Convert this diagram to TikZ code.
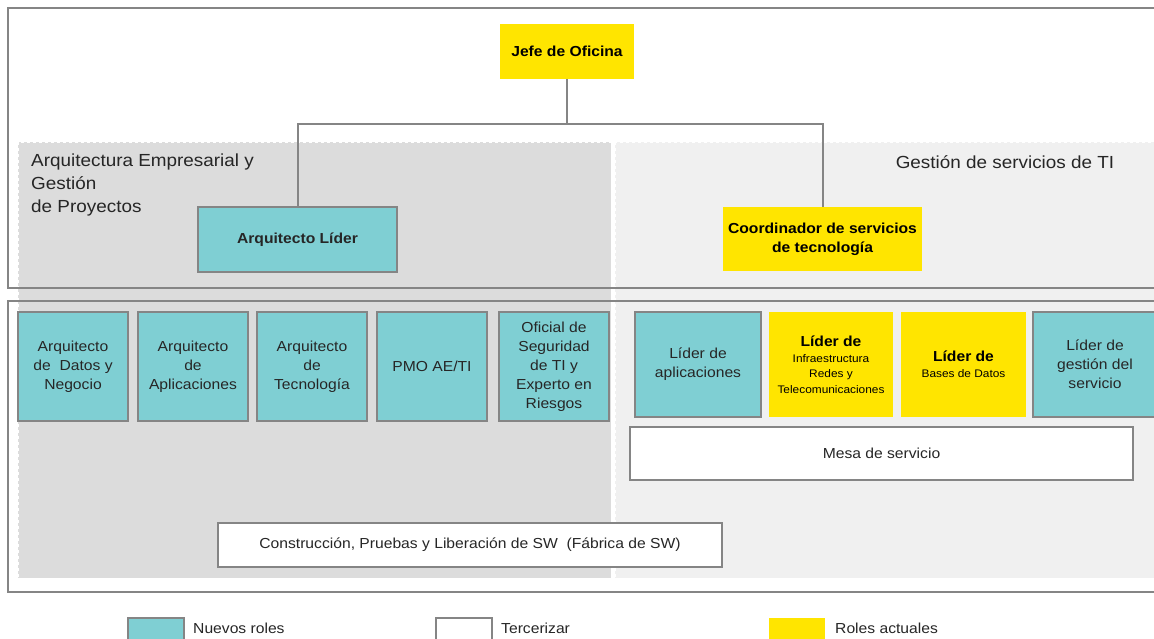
\documentclass[tikz,border=0pt]{standalone}
\usepackage{fontspec}
\setmainfont{Liberation Sans}[FakeStretch=1.08]
\usepackage{tikz}
\usepackage{xcolor}
\usetikzlibrary{positioning}
\definecolor{rolteal}{HTML}{7FCFD3}
\definecolor{rolyellow}{HTML}{FFE500}
\definecolor{areadark}{HTML}{DCDCDC}
\definecolor{arealight}{HTML}{F0F0F0}
\definecolor{linegray}{HTML}{858585}
\definecolor{textgray}{HTML}{262626}
\tikzset{
    role-box/.style = {rectangle, inner sep=2pt, align=center, text=textgray, font=\fontsize{14.5}{19}\selectfont},
    bold-text/.style = {font=\fontsize{14.5}{19}\selectfont\bfseries},
    new-role/.style = {role-box, draw=linegray, fill=rolteal, line width=1.2pt},
    current-role/.style = {role-box, fill=rolyellow, text=black},
    outsourced/.style = {role-box, draw=linegray, fill=white, line width=1.2pt},
    area/.style = {draw=white, dashed, line width=0.8pt},
    area-title/.style = {text=textgray, font=\fontsize{17.5}{23}\selectfont, align=left, inner sep=0pt},
    frame/.style = {draw=linegray, line width=1.2pt},
    link/.style = {draw=linegray, line width=2pt},
    key-label/.style = {text=textgray, font=\fontsize{14.5}{19}\selectfont, inner sep=0pt, anchor=west},
}
\begin{document}
\begin{tikzpicture}[x=1pt, y=-1pt]
\useasboundingbox (0,0) rectangle (1154,638);
\clip (0,0) rectangle (1154,638);
\fill[white] (0,0) rectangle (1154,638);

\filldraw[area, fill=areadark] (18,142) rectangle (611,578);
\filldraw[area, fill=arealight] (615,142) rectangle (1170,578);
\draw[frame] (8,8) rectangle (1162,288);
\draw[frame] (8,301) rectangle (1162,592);

\node[area-title, anchor=west] (aetitle) at (31,185) {Arquitectura Empresarial y\\Gestión\\de Proyectos};
\node[area-title] (gstitle) at (1005,162) {Gestión de servicios de TI};

\node[current-role, bold-text, minimum width=134pt, minimum height=55pt] (jefe) at (567,51.5) {Jefe de Oficina};
\node[new-role, bold-text, minimum width=199pt, minimum height=65pt] (lider) at (297.5,239.5) {Arquitecto Líder};
\node[current-role, bold-text, minimum width=199pt, minimum height=64pt] (coord) at (822.5,239) {Coordinador de servicios\\de tecnología};

\coordinate (bus) at (567,124);
\draw[link] (jefe.south) -- (bus) -| (lider.north);
\draw[link] (bus) -| (coord.north);

\node[new-role, minimum width=110pt, minimum height=109pt] (datos) at (73,366.5) {Arquitecto\\de\ \ Datos y\\Negocio};
\node[new-role, minimum width=110pt, minimum height=109pt] (aplic) at (193,366.5) {Arquitecto\\de\\Aplicaciones};
\node[new-role, minimum width=110pt, minimum height=109pt] (tecno) at (312,366.5) {Arquitecto\\de\\Tecnología};
\node[new-role, minimum width=110pt, minimum height=109pt] (pmo) at (432,366.5) {PMO AE/TI};
\node[new-role, minimum width=110pt, minimum height=109pt] (segur) at (554,366.5) {Oficial de\\Seguridad\\de TI y\\Experto en\\Riesgos};

\node[outsourced, minimum width=504pt, minimum height=44pt] (fabrica) at (470,545) {Construcción, Pruebas y Liberación de SW\ \ (Fábrica de SW)};

\node[new-role, minimum width=126pt, minimum height=105pt] (lidapl) at (698,364.5) {Líder de\\aplicaciones};
\node[current-role, minimum width=124pt, minimum height=105pt, font=\fontsize{11}{15.5}\selectfont] (lidinf) at (831,364.5) {{\fontsize{14.5}{15.5}\selectfont\bfseries Líder de}\\Infraestructura\\Redes y\\Telecomunicaciones};
\node[current-role, minimum width=125pt, minimum height=105pt, font=\fontsize{11}{16}\selectfont] (lidbd) at (963.5,364.5) {{\fontsize{14.5}{16}\selectfont\bfseries Líder de}\\Bases de Datos};
\node[new-role, minimum width=124pt, minimum height=105pt] (lidges) at (1095,364.5) {Líder de\\gestión del\\servicio};
\node[outsourced, minimum width=503pt, minimum height=53pt] (mesa) at (881.5,453.5) {Mesa de servicio};

\node[new-role, minimum width=56pt, minimum height=32pt] (keynew) at (156,634) {};
\node[key-label] (keynewtxt) at (193,628) {Nuevos roles};
\node[outsourced, minimum width=56pt, minimum height=32pt] (keyout) at (464,634) {};
\node[key-label] (keyouttxt) at (501,628) {Tercerizar};
\node[current-role, minimum width=56pt, minimum height=32pt] (keycur) at (797,634) {};
\node[key-label] (keycurtxt) at (835,628) {Roles actuales};
\end{tikzpicture}
\end{document}
